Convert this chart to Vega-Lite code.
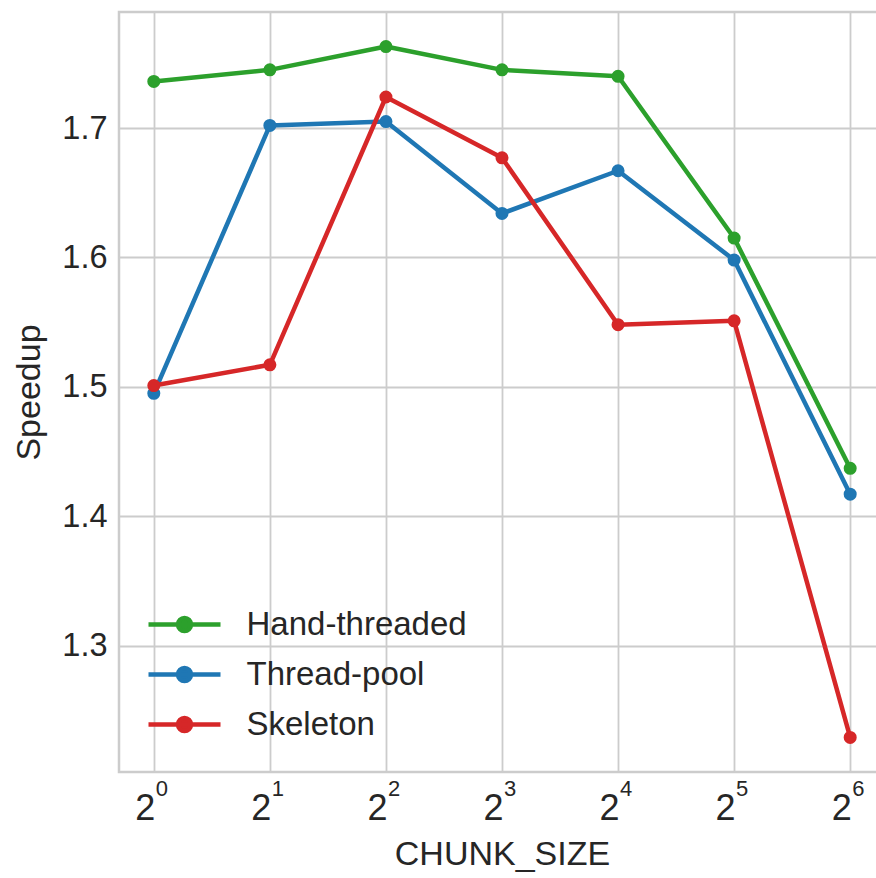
{
  "$schema": "https://vega.github.io/schema/vega-lite/v6.json",
  "width": 766,
  "height": 760,
  "autosize": {"type": "none"},
  "padding": {"left": 119, "top": 12, "right": 0, "bottom": 106},
  "background": "white",
  "config": {
    "font": "Liberation Sans",
    "view": {"stroke": "#cccccc", "strokeWidth": 2.5},
    "axis": {"domain": false, "ticks": false, "tickSize": 0, "gridColor": "#cccccc", "gridWidth": 1.8, "labelColor": "#262626", "titleColor": "#262626", "titleFontWeight": "normal", "labelFont": "Liberation Sans", "titleFont": "Liberation Sans"},
    "legend": {"labelFont": "Liberation Sans", "labelColor": "#262626"}
  },
  "data": {"values": [
    {"CHUNK_SIZE": 1, "Speedup": 1.736, "Series": "Hand-threaded"},
    {"CHUNK_SIZE": 2, "Speedup": 1.745, "Series": "Hand-threaded"},
    {"CHUNK_SIZE": 4, "Speedup": 1.763, "Series": "Hand-threaded"},
    {"CHUNK_SIZE": 8, "Speedup": 1.745, "Series": "Hand-threaded"},
    {"CHUNK_SIZE": 16, "Speedup": 1.740, "Series": "Hand-threaded"},
    {"CHUNK_SIZE": 32, "Speedup": 1.615, "Series": "Hand-threaded"},
    {"CHUNK_SIZE": 64, "Speedup": 1.437, "Series": "Hand-threaded"},
    {"CHUNK_SIZE": 1, "Speedup": 1.495, "Series": "Thread-pool"},
    {"CHUNK_SIZE": 2, "Speedup": 1.702, "Series": "Thread-pool"},
    {"CHUNK_SIZE": 4, "Speedup": 1.705, "Series": "Thread-pool"},
    {"CHUNK_SIZE": 8, "Speedup": 1.634, "Series": "Thread-pool"},
    {"CHUNK_SIZE": 16, "Speedup": 1.667, "Series": "Thread-pool"},
    {"CHUNK_SIZE": 32, "Speedup": 1.598, "Series": "Thread-pool"},
    {"CHUNK_SIZE": 64, "Speedup": 1.417, "Series": "Thread-pool"},
    {"CHUNK_SIZE": 1, "Speedup": 1.501, "Series": "Skeleton"},
    {"CHUNK_SIZE": 2, "Speedup": 1.517, "Series": "Skeleton"},
    {"CHUNK_SIZE": 4, "Speedup": 1.724, "Series": "Skeleton"},
    {"CHUNK_SIZE": 8, "Speedup": 1.677, "Series": "Skeleton"},
    {"CHUNK_SIZE": 16, "Speedup": 1.548, "Series": "Skeleton"},
    {"CHUNK_SIZE": 32, "Speedup": 1.551, "Series": "Skeleton"},
    {"CHUNK_SIZE": 64, "Speedup": 1.229, "Series": "Skeleton"}
  ]},
  "resolve": {"axis": {"x": "independent"}},
  "layer": [
    {
      "mark": {"type": "line", "strokeWidth": 4.5, "strokeCap": "round", "strokeJoin": "round"},
      "encoding": {
        "x": {"field": "CHUNK_SIZE", "type": "quantitative",
          "scale": {"type": "log", "base": 2, "domain": [0.8123, 78.79], "nice": false},
          "axis": {"orient": "bottom", "values": [1, 2, 4, 8, 16, 32, 64], "labelExpr": "'2'", "labelFontSize": 36, "labelAlign": "right", "labelOffset": 1, "labelBaseline": "alphabetic", "labelPadding": 47, "grid": true, "title": "CHUNK_SIZE", "titleFontSize": 34, "titlePadding": 11}},
        "y": {"field": "Speedup", "type": "quantitative",
          "scale": {"domain": [1.2023, 1.7897], "nice": false, "zero": false},
          "axis": {"values": [1.3, 1.4, 1.5, 1.6, 1.7], "format": ".1f", "labelFontSize": 32.5, "labelPadding": 12, "grid": true, "title": "Speedup", "titleFontSize": 34, "titlePadding": 15}},
        "color": {"field": "Series", "type": "nominal",
          "scale": {"domain": ["Hand-threaded", "Thread-pool", "Skeleton"], "range": ["#2ca02c", "#1f77b4", "#d62728"]},
          "legend": {"title": null, "orient": "none", "legendX": 45, "legendY": 592, "padding": 0, "labelFontSize": 33, "labelOffset": 41.5, "labelLimit": 400, "rowPadding": 12,
            "symbolType": "M-2,0H2M0.36,0A0.36,0.36,0,1,1,-0.36,0A0.36,0.36,0,1,1,0.36,0Z",
            "symbolSize": 1296, "symbolStrokeWidth": 4.5}}
      }
    },
    {
      "mark": {"type": "point", "filled": true, "size": 170, "opacity": 1},
      "encoding": {
        "x": {"field": "CHUNK_SIZE", "type": "quantitative",
          "axis": {"orient": "bottom", "values": [1, 2, 4, 8, 16, 32, 64], "labelExpr": "format(log(datum.value)/LN2, '.0f')", "labelFontSize": 22, "labelAlign": "left", "labelOffset": 1.5, "labelBaseline": "alphabetic", "labelPadding": 23, "grid": false, "title": null}},
        "y": {"field": "Speedup", "type": "quantitative"},
        "color": {"field": "Series", "type": "nominal"}
      }
    }
  ]
}
